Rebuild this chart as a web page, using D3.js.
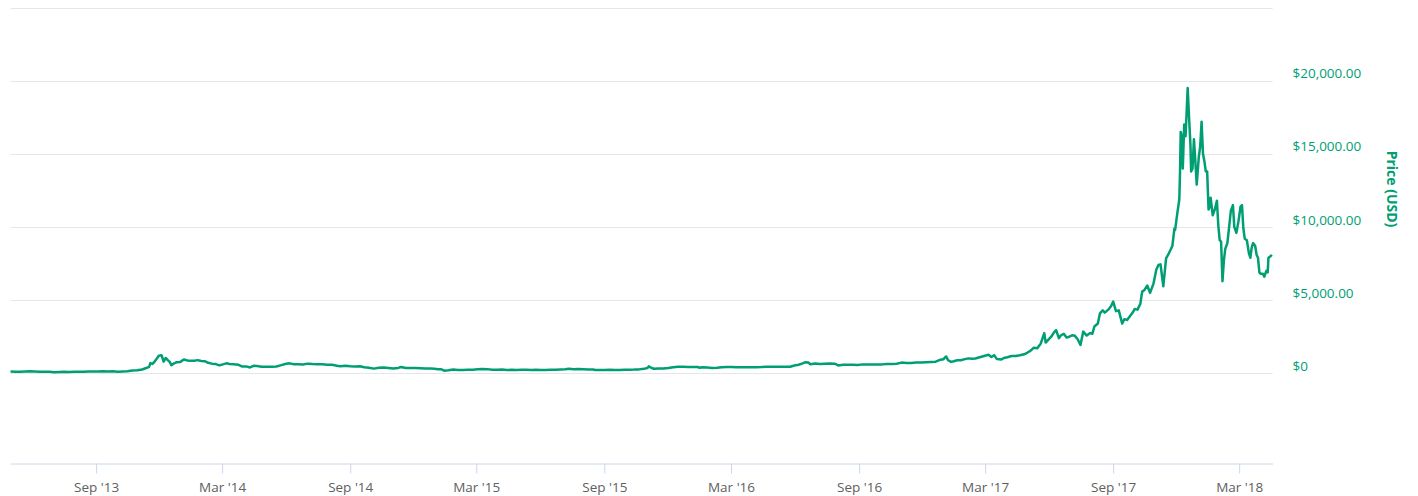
<!DOCTYPE html>
<html>
<head>
<meta charset="utf-8">
<script src="https://cdn.jsdelivr.net/npm/d3@7"></script>
<style>
  body { margin: 0; background: #fff; }
  svg { display: block; font-family: "Open Sans", sans-serif; }
</style>
</head>
<body>
<div id="chart"></div>
<script>
// price data per year (month-day, USD)
var dates2013 = ["05-01","05-08","05-15","05-22","05-29","06-05","06-12","06-19","06-26","07-03",
  "07-10","07-17","07-24","07-31","08-07","08-14","08-21","08-28","09-04","09-11",
  "09-18","09-25","10-02","10-09","10-16","10-23","10-30","11-06","11-12","11-16",
  "11-18","11-21","11-24","11-27","11-30","12-04","12-07","12-10","12-13","12-16",
  "12-18","12-22","12-26","12-31"];
var prices2013 = [117,112,111,123,132,121,108,108,103,78,
  88,98,95,106,106,99,122,129,121,140,
  127,134,105,127,144,195,204,260,360,440,
  700,640,800,1000,1200,1240,800,1050,900,760,
  560,680,760,780];

var dates2014 = ["01-05","01-10","01-15","01-20","01-25","01-30","02-04","02-09","02-14","02-19",
  "02-25","03-02","03-07","03-12","03-18","03-24","03-30","04-05","04-10","04-15",
  "04-20","04-27","05-04","05-11","05-18","05-25","06-01","06-06","06-12","06-18",
  "06-25","07-02","07-09","07-16","07-23","07-30","08-06","08-13","08-18","08-25",
  "09-01","09-08","09-15","09-21","09-28","10-05","10-12","10-19","10-26","11-02",
  "11-09","11-13","11-20","11-27","12-04","12-11","12-18","12-25","12-31"];
var prices2014 = [950,880,860,860,900,840,830,720,660,640,
  540,610,680,640,620,590,460,470,400,510,
  500,450,440,450,470,560,650,680,620,620,
  600,660,630,620,620,580,590,520,480,510,
  480,470,480,410,380,320,380,390,360,330,
  370,430,360,370,370,350,320,320,315];

var dates2015 = ["01-05","01-10","01-14","01-20","01-27","02-03","02-10","02-17","02-24","03-03",
  "03-10","03-17","03-24","03-31","04-07","04-14","04-21","04-28","05-05","05-12",
  "05-19","05-26","06-02","06-09","06-16","06-23","06-30","07-07","07-12","07-19",
  "07-26","08-02","08-09","08-16","08-19","08-26","09-02","09-09","09-16","09-23",
  "09-30","10-07","10-14","10-21","10-28","11-02","11-04","11-07","11-11","11-18",
  "11-25","12-02","12-09","12-16","12-23","12-30"];
var prices2015 = [275,275,180,210,260,225,220,245,240,280,
  290,285,245,245,255,220,235,225,235,240,
  232,237,225,229,250,243,264,270,310,274,
  292,281,266,258,226,228,228,238,229,231,
  236,246,253,268,303,360,480,385,310,335,
  328,360,415,455,440,430];

var dates2016 = ["01-06","01-13","01-16","01-20","01-27","02-03","02-10","02-17","02-24","03-02",
  "03-09","03-16","03-23","03-30","04-06","04-13","04-20","04-27","05-04","05-11",
  "05-18","05-25","05-31","06-06","06-12","06-16","06-20","06-23","06-30","07-07",
  "07-14","07-21","07-28","08-02","08-09","08-16","08-23","08-30","09-06","09-13",
  "09-20","09-27","10-04","10-11","10-18","10-25","11-01","11-08","11-15","11-22",
  "11-29","12-06","12-13","12-20","12-27","12-31"];
var prices2016 = [430,430,380,420,395,370,380,420,425,430,
  412,416,418,415,422,424,442,446,446,453,
  454,448,531,585,680,760,735,620,670,640,
  660,665,655,540,590,580,585,575,610,610,
  600,605,610,640,637,650,730,710,712,738,
  732,760,780,795,930,960];

var dates2017 = ["01-04","01-07","01-11","01-15","01-20","01-25","01-31","02-05","02-10","02-15",
  "02-20","02-25","03-02","03-06","03-10","03-14","03-18","03-24","03-28","04-02",
  "04-08","04-14","04-20","04-26","05-01","05-05","05-10","05-15","05-20","05-25",
  "05-27","05-31","06-04","06-08","06-11","06-15","06-18","06-22","06-26","06-30",
  "07-04","07-08","07-12","07-16","07-20","07-25","07-30","08-02","08-05","08-10",
  "08-13","08-17","08-20","08-25","08-29","09-01","09-05","09-09","09-14","09-17",
  "09-21","09-25","09-29","10-02","10-06","10-10","10-12","10-13","10-16","10-20",
  "10-24","10-29","11-02","11-05","11-08","11-12","11-16","11-20","11-25","11-28",
  "11-29","12-02","12-05","12-06","12-07","12-08","12-10","12-12","12-14","12-17",
  "12-19","12-21","12-22","12-24","12-26","12-28","12-30"];
var prices2017 = [1150,890,780,820,890,890,970,1020,990,1010,
  1080,1150,1220,1270,1110,1240,970,940,1045,1100,
  1180,1180,1230,1300,1420,1530,1750,1720,2040,2750,
  2100,2300,2500,2800,2950,2400,2600,2700,2450,2500,
  2600,2560,2330,1930,2850,2580,2750,2700,3200,3400,
  4100,4300,4150,4350,4600,4900,4250,4300,3400,3700,
  3650,3900,4150,4400,4350,4750,5400,5600,5700,6000,
  5500,6150,7100,7400,7450,5950,7850,8200,8700,9900,
  9800,10900,11900,13700,16500,16300,14000,17000,16200,19500,
  17500,15600,13800,14000,16000,14500,12900];

var dates2018 = ["01-02","01-04","01-06","01-08","01-10","01-12","01-14","01-16","01-17","01-19",
  "01-22","01-25","01-28","01-30","02-01","02-03","02-05","02-07","02-09","02-12",
  "02-15","02-17","02-20","02-22","02-25","02-28","03-03","03-05","03-07","03-09",
  "03-12","03-15","03-17","03-19","03-21","03-24","03-26","03-28","03-30","04-01",
  "04-04","04-06","04-09","04-11","04-12","04-15","04-17"];
var prices2018 = [14800,15500,17200,15000,14500,13800,13800,11200,11300,12000,
  10800,11200,11800,10100,9100,9000,6300,7700,8500,8900,
  10200,11100,11500,10000,9600,10400,11400,11500,9900,9200,
  9100,8200,7900,8600,8900,8700,8100,7900,6900,6800,
  6800,6600,7000,6900,7900,8000,8100];

// axis ticks
var xTickDates = ["2013-09-01","2014-03-01","2014-09-01","2015-03-01","2015-09-01",
  "2016-03-01","2016-09-01","2017-03-01","2017-09-01","2018-03-01"];
var yGridValues = [0, 5000, 10000, 15000, 20000, 25000];
var yLabelValues = [0, 5000, 10000, 15000, 20000];
var xDomain = ["2013-05-01", "2018-04-18"];

var width = 1418, height = 496;
var plot = {left: 10.5, right: 1272.6, zero: 373.3, top20k: 80.7, axisY: 463.5};
var green = "#009e73";

var parseDate = d3.timeParse("%Y-%m-%d");

// put the years together in one list
var data = [];
[[2013, dates2013, prices2013], [2014, dates2014, prices2014], [2015, dates2015, prices2015],
 [2016, dates2016, prices2016], [2017, dates2017, prices2017], [2018, dates2018, prices2018]]
  .forEach(function(y){
    y[1].forEach(function(md, i){
      data.push({date: parseDate(y[0] + "-" + md), price: y[2][i]});
    });
  });

var svg = d3.select("#chart")
  .append("svg")
  .attr("width", width)
  .attr("height", height);

var xScale = d3.scaleTime()
  .domain(xDomain.map(parseDate))
  .range([plot.left, plot.right]);

var yScale = d3.scaleLinear()
  .domain([0, 20000])
  .range([plot.zero, plot.top20k]);

// horizontal gridlines
svg.append("g")
  .selectAll("line")
  .data(yGridValues)
  .enter().append("line")
  .attr("x1", plot.left)
  .attr("x2", plot.right)
  .attr("y1", function(d){ return Math.round(yScale(d)) + 0.5; })
  .attr("y2", function(d){ return Math.round(yScale(d)) + 0.5; })
  .attr("stroke", "#e6e6e6")
  .attr("stroke-width", 1);

// x axis at the bottom
var xAxis = d3.axisBottom(xScale)
  .tickValues(xTickDates.map(parseDate))
  .tickFormat(d3.timeFormat("%b '%y"))
  .tickSize(10)
  .tickSizeOuter(0)
  .tickPadding(9);

var gx = svg.append("g")
  .attr("transform", "translate(0," + plot.axisY + ")")
  .call(xAxis);
gx.select(".domain").attr("stroke", "#ccd6eb");
gx.selectAll(".tick line").attr("stroke", "#ccd6eb");
gx.selectAll(".tick text")
  .attr("fill", "#606060")
  .attr("font-size", "13.5px")
  .attr("font-family", "Open Sans, sans-serif");

// y labels on the right
svg.append("g")
  .selectAll("text")
  .data(yLabelValues)
  .enter().append("text")
  .attr("x", 1292.5)
  .attr("y", function(d){ return yScale(d) - 2.5; })
  .attr("fill", green)
  .attr("font-size", "13.5px")
  .text(function(d){ return d === 0 ? "$0" : "$" + d3.format(",.2f")(d); });

// axis title
svg.append("text")
  .attr("transform", "translate(1386.5,189) rotate(90)")
  .attr("text-anchor", "middle")
  .attr("fill", green)
  .attr("font-size", "14px")
  .attr("font-weight", "bold")
  .text("Price (USD)");

// price line
var line = d3.line()
  .x(function(d){ return xScale(d.date); })
  .y(function(d){ return yScale(d.price); });

svg.append("path")
  .datum(data)
  .attr("d", line)
  .attr("fill", "none")
  .attr("stroke", green)
  .attr("stroke-width", 2.5)
  .attr("stroke-linejoin", "round");
</script>
</body>
</html>
